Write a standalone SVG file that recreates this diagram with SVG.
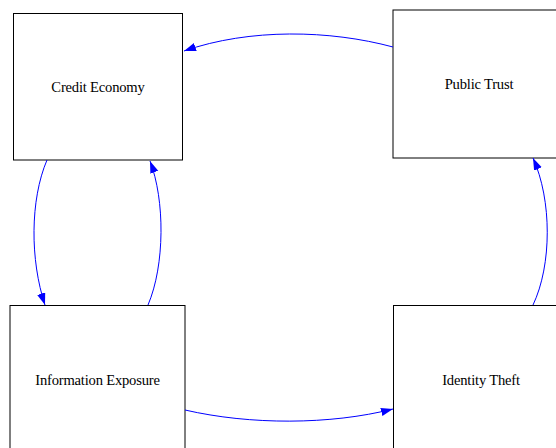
<svg xmlns="http://www.w3.org/2000/svg" width="556" height="448" viewBox="0 0 556 448">
<style>
.box{fill:#fff;stroke:#000;stroke-width:1}
.lbl{font-family:"Liberation Serif","Times New Roman",serif;font-size:14.6px;fill:#000;text-anchor:middle;dominant-baseline:central;letter-spacing:-0.2px}
.edge{fill:none;stroke:#0000ff;stroke-width:1}
</style>
<defs>
<marker id="arr" markerUnits="userSpaceOnUse" markerWidth="13" markerHeight="9" refX="12" refY="4.2" orient="auto">
<path d="M0,0 L12,4.2 L0,8.4 z" fill="#0000ff"/>
</marker>
</defs>
<rect width="556" height="448" fill="#fff"/>
<g id="credit-economy">
<rect class="box" x="13.5" y="13.5" width="169" height="146.5"/>
<text class="lbl" x="98" y="87">Credit Economy</text>
</g>
<g id="public-trust">
<rect class="box" x="393" y="10" width="172" height="148"/>
<text class="lbl" x="479" y="84">Public Trust</text>
</g>
<g id="information-exposure">
<rect class="box" x="10" y="305.5" width="175" height="150"/>
<text class="lbl" x="97.5" y="380">Information Exposure</text>
</g>
<g id="identity-theft">
<rect class="box" x="393.5" y="305.5" width="172" height="150"/>
<text class="lbl" x="481" y="380">Identity Theft</text>
</g>
<g id="connectors">
<path class="edge" d="M393,47 C330,30 250,28 184,51" marker-end="url(#arr)"/>
<path class="edge" d="M185,410 C250,425 330,425 393,409" marker-end="url(#arr)"/>
<path class="edge" d="M47,160 C30,200 30,260 45,305" marker-end="url(#arr)"/>
<path class="edge" d="M148,305 C165,265 165,200 150,161" marker-end="url(#arr)"/>
<path class="edge" d="M533,305 C552,265 552,200 533,158" marker-end="url(#arr)"/>
</g>
</svg>
